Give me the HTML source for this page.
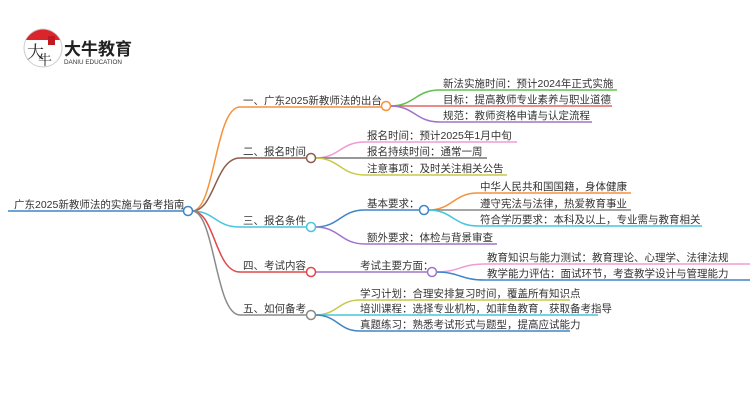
<!DOCTYPE html>
<html><head><meta charset="utf-8"><style>
html,body{margin:0;padding:0;background:#fff;}
svg{display:block;}
text{font-family:"Liberation Sans","Noto Sans CJK SC",sans-serif;font-size:10.5px;fill:#333;}
</style></head><body>
<svg width="750" height="410" viewBox="0 0 750 410" xmlns="http://www.w3.org/2000/svg">
<!-- logo -->
<circle cx="43" cy="48" r="19" fill="#fff" stroke="#ccc" stroke-width="1"/>
<path d="M26,40 A19,19 0 0 1 60,40 Z" fill="#d9252b"/>
<rect x="48" y="36" width="7" height="9" fill="#c01a20"/>
<text x="27" y="58" style="font-size:17px;fill:#222;font-family:'Noto Serif CJK SC',serif">大</text>
<text x="38" y="65" style="font-size:14px;fill:#222;font-family:'Noto Serif CJK SC',serif">牛</text>
<text x="64" y="55" style="font-size:17px;font-weight:bold;fill:#222">大牛教育</text>
<text x="64" y="64" style="font-size:6.3px;fill:#333">DANIU EDUCATION</text>

<g fill="none" stroke-width="1.5">
<!-- root -->
<line x1="8" y1="211" x2="184" y2="211" stroke="#3d85c6"/>
<!-- root to branches -->
<path d="M192,211 C215,211 215,107 240,107 L381,107" stroke="#f6913a"/>
<path d="M192,211 C215,211 215,158 240,158 L306,158" stroke="#8e5c4c"/>
<path d="M192,211 C215,211 215,227 240,227 L306,227" stroke="#45c7dc"/>
<path d="M192,211 C215,211 215,272 240,272 L306,272" stroke="#e04848"/>
<path d="M192,211 C215,211 215,315 240,315 L306,315" stroke="#8a8a8a"/>
<!-- branch1 children -->
<path d="M390,106 C415,106 415,90 440,90 L617,90" stroke="#62c04e"/>
<path d="M390,106 L612,106" stroke="#e06666"/>
<path d="M390,106 C415,106 415,122 440,122 L592,122" stroke="#a073cc"/>
<!-- branch2 children -->
<path d="M315,158 C340,158 340,142 365,142 L517,142" stroke="#f29bd3"/>
<path d="M315,158 L487,158" stroke="#777"/>
<path d="M315,158 C340,158 340,175 365,175 L507,175" stroke="#c8c84a"/>
<!-- branch3 children -->
<path d="M315,227 C340,227 340,210 365,210 L419,210" stroke="#3d85c6"/>
<path d="M315,227 C340,227 340,244 365,244 L497,244" stroke="#a073cc"/>
<path d="M428,210 C453,210 453,193 478,193 L631,193" stroke="#f6913a"/>
<path d="M428,210 L631,210" stroke="#888"/>
<path d="M428,210 C453,210 453,226 478,226 L702,226" stroke="#45c7dc"/>
<!-- branch4 -->
<path d="M315,272 L427,272" stroke="#a073cc"/>
<path d="M436,272 C460,272 460,264 485,264 L750,264" stroke="#f29bd3"/>
<path d="M436,272 C460,272 460,280 485,280 L750,280" stroke="#3d85c6"/>
<!-- branch5 -->
<path d="M315,315 C338,315 338,300 360,300 L570,300" stroke="#c8c84a"/>
<path d="M315,315 L598,315" stroke="#45c7dc"/>
<path d="M315,315 C338,315 338,331 360,331 L570,331" stroke="#3d85c6"/>
</g>
<g fill="#fff" stroke-width="1.5">
<circle cx="188" cy="211" r="4.5" stroke="#3d85c6"/>
<circle cx="386" cy="106" r="4.5" stroke="#f6913a"/>
<circle cx="311" cy="158" r="4.5" stroke="#8e5c4c"/>
<circle cx="311" cy="227" r="4.5" stroke="#45c7dc"/>
<circle cx="424" cy="210" r="4.5" stroke="#3d85c6"/>
<circle cx="311" cy="272" r="4.5" stroke="#e04848"/>
<circle cx="432" cy="272" r="4.5" stroke="#a073cc"/>
<circle cx="311" cy="315" r="4.5" stroke="#8a8a8a"/>
</g>
<!-- labels -->
<text x="14" y="208">广东2025新教师法的实施与备考指南</text>
<text x="243" y="104">一、广东2025新教师法的出台</text>
<text x="443" y="87">新法实施时间：预计2024年正式实施</text>
<text x="443" y="103">目标：提高教师专业素养与职业道德</text>
<text x="443" y="119">规范：教师资格申请与认定流程</text>
<text x="243" y="155">二、报名时间</text>
<text x="367" y="139">报名时间：预计2025年1月中旬</text>
<text x="367" y="155">报名持续时间：通常一周</text>
<text x="367" y="172">注意事项：及时关注相关公告</text>
<text x="243" y="224">三、报名条件</text>
<text x="367" y="207">基本要求：</text>
<text x="367" y="241">额外要求：体检与背景审查</text>
<text x="480" y="190">中华人民共和国国籍，身体健康</text>
<text x="480" y="207">遵守宪法与法律，热爱教育事业</text>
<text x="480" y="223">符合学历要求：本科及以上，专业需与教育相关</text>
<text x="243" y="269">四、考试内容</text>
<text x="360" y="269">考试主要方面：</text>
<text x="487" y="261">教育知识与能力测试：教育理论、心理学、法律法规</text>
<text x="487" y="277">教学能力评估：面试环节，考查教学设计与管理能力</text>
<text x="243" y="312">五、如何备考</text>
<text x="360" y="297">学习计划：合理安排复习时间，覆盖所有知识点</text>
<text x="360" y="312">培训课程：选择专业机构，如菲鱼教育，获取备考指导</text>
<text x="360" y="328">真题练习：熟悉考试形式与题型，提高应试能力</text>
</svg>
</body></html>
